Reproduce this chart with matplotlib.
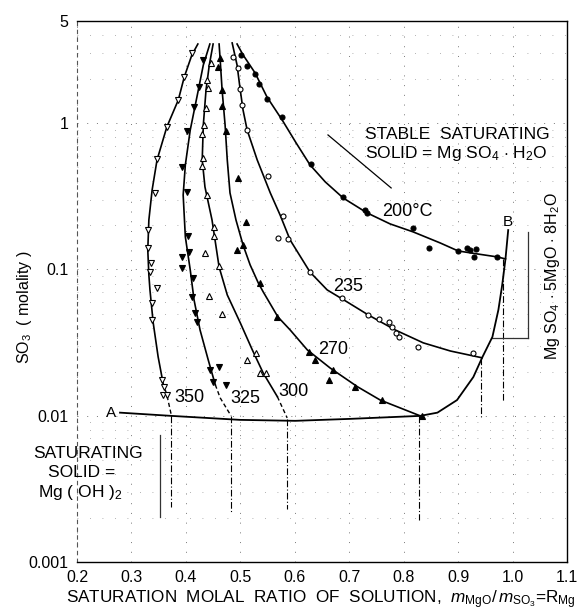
import matplotlib
matplotlib.use("Agg")
import matplotlib.pyplot as plt
from matplotlib.ticker import FixedLocator, NullFormatter

plt.rcParams['font.family'] = ['Liberation Sans', 'DejaVu Sans']
plt.rcParams['mathtext.fontset'] = 'custom'
plt.rcParams['mathtext.rm'] = 'Liberation Sans'
plt.rcParams['mathtext.it'] = 'Liberation Sans:italic'
plt.rcParams['mathtext.bf'] = 'Liberation Sans:bold'

# ---------------- data ----------------
# 350 C  (open down triangles)
x350_line = [0.422, 0.411, 0.397, 0.386, 0.365, 0.347, 0.338, 0.332, 0.330, 0.332, 0.334, 0.340, 0.349, 0.358]
y350_line = [3.48, 2.93, 2.07, 1.44, 0.943, 0.561, 0.350, 0.218, 0.136, 0.0918, 0.0725, 0.0431, 0.0253, 0.0168]
x350_tail = [0.358, 0.365, 0.374]
y350_tail = [0.0168, 0.0139, 0.0098]
x350_pts = [0.411, 0.397, 0.386, 0.365, 0.347, 0.343, 0.330, 0.330, 0.336, 0.334, 0.347, 0.338, 0.338, 0.356, 0.360, 0.358, 0.365]
y350_pts = [3.02, 2.07, 1.44, 0.943, 0.570, 0.334, 0.186, 0.140, 0.111, 0.096, 0.075, 0.059, 0.045, 0.0176, 0.0158, 0.0139, 0.0139]

# 325 C  (filled down triangles)
x325_line = [0.444, 0.432, 0.421, 0.408, 0.399, 0.395, 0.399, 0.408, 0.415, 0.426, 0.441, 0.454]
y325_line = [3.48, 2.50, 1.56, 0.899, 0.519, 0.323, 0.167, 0.0993, 0.0619, 0.0386, 0.0241, 0.0163]
x325_tail = [0.454, 0.463, 0.483]
y325_tail = [0.0163, 0.01325, 0.00998]
x325_pts = [0.432, 0.424, 0.415, 0.402, 0.393, 0.402, 0.404, 0.406, 0.393, 0.393, 0.413, 0.411, 0.417, 0.421, 0.444, 0.461, 0.450, 0.474]
y325_pts = [2.71, 1.77, 1.29, 0.885, 0.502, 0.339, 0.170, 0.132, 0.122, 0.1025, 0.0876, 0.0649, 0.0505, 0.0438, 0.0206, 0.0216, 0.0170, 0.0163]

# 300 C  (open up triangles)
x300_line = [0.450, 0.443, 0.437, 0.432, 0.430, 0.435, 0.448, 0.461, 0.476, 0.500, 0.522, 0.542, 0.568]
y300_line = [3.48, 2.50, 1.69, 0.973, 0.561, 0.367, 0.218, 0.104, 0.067, 0.0431, 0.0282, 0.0196, 0.0135]
x300_tail = [0.568, 0.586]
y300_tail = [0.0135, 0.00967]
x300_pts = [0.446, 0.439, 0.441, 0.437, 0.433, 0.430, 0.432, 0.430, 0.439, 0.452, 0.452, 0.435, 0.461, 0.443, 0.4665, 0.529, 0.5125, 0.536, 0.547]
y300_pts = [2.58, 1.975, 1.74, 1.27, 0.973, 0.845, 0.579, 0.510, 0.323, 0.195, 0.170, 0.130, 0.106, 0.066, 0.0497, 0.0269, 0.0241, 0.0196, 0.0196]

# 270 C  (filled up triangles)
x270_line = [0.461, 0.463, 0.4665, 0.472, 0.476, 0.481, 0.492, 0.505, 0.518, 0.533, 0.542, 0.569, 0.5915, 0.623, 0.665, 0.715, 0.757, 0.8305]
y270_line = [3.48, 2.71, 1.69, 0.973, 0.561, 0.334, 0.218, 0.147, 0.1075, 0.0809, 0.0703, 0.0474, 0.0386, 0.0282, 0.0212, 0.0158, 0.0128, 0.00998]
x270_pts = [0.463, 0.459, 0.4665, 0.4665, 0.474, 0.496, 0.511, 0.494, 0.505, 0.536, 0.568, 0.626, 0.637, 0.6705, 0.663, 0.711, 0.761, 0.834]
y270_pts = [2.79, 2.42, 1.69, 1.31, 0.885, 0.423, 0.211, 0.136, 0.147, 0.081, 0.0474, 0.0273, 0.0241, 0.0206, 0.0176, 0.0158, 0.0128, 0.00998]

# 235 C  (open circles)
x235_line = [0.485, 0.494, 0.4996, 0.505, 0.5125, 0.531, 0.555, 0.573, 0.5915, 0.628, 0.6595, 0.693, 0.735, 0.7845, 0.836, 0.886, 0.944]
y235_line = [3.54, 2.50, 1.715, 1.23, 0.899, 0.561, 0.334, 0.236, 0.159, 0.096, 0.0725, 0.061, 0.0489, 0.0386, 0.0315, 0.0277, 0.0249]
x235_pts = [0.487, 0.496, 0.4996, 0.503, 0.5125, 0.551, 0.579, 0.569, 0.588, 0.628, 0.687, 0.735, 0.755, 0.7735, 0.779, 0.786, 0.792, 0.827, 0.928]
y235_pts = [2.84, 2.39, 1.715, 1.33, 0.899, 0.436, 0.232, 0.164, 0.162, 0.096, 0.064, 0.0489, 0.0459, 0.0438, 0.0405, 0.0368, 0.0346, 0.0296, 0.0269]

# 200 C  (filled circles)
x200_line = [0.494, 0.505, 0.527, 0.549, 0.577, 0.6025, 0.628, 0.656, 0.689, 0.733, 0.775, 0.8176, 0.867, 0.900, 0.935, 0.972, 0.987]
y200_line = [3.48, 2.93, 2.21, 1.51, 1.05, 0.733, 0.519, 0.397, 0.308, 0.2435, 0.205, 0.1806, 0.1519, 0.1339, 0.1278, 0.1219, 0.1181]
x200_pts = [0.501, 0.5125, 0.527, 0.5345, 0.549, 0.577, 0.630, 0.689, 0.729, 0.733, 0.8176, 0.847, 0.900, 0.917, 0.922, 0.933, 0.930, 0.972]
y200_pts = [2.93, 2.46, 2.17, 1.855, 1.465, 1.104, 0.527, 0.313, 0.2554, 0.2435, 0.1924, 0.1404, 0.1339, 0.1404, 0.1361, 0.1382, 0.1219, 0.1219]

# phase boundary A - B
xAB = [0.279, 0.373, 0.4996, 0.6007, 0.702, 0.8305, 0.862, 0.898, 0.928, 0.944, 0.963, 0.974, 0.981, 0.987, 0.992]
yAB = [0.0105, 0.00998, 0.00937, 0.00923, 0.00952, 0.00998, 0.0105, 0.0128, 0.0184, 0.0249, 0.0346, 0.053, 0.0785, 0.118, 0.186]

# vertical drop lines (R_Mg at saturation)
drop_x = [0.372, 0.483, 0.586, 0.829, 0.9426, 0.983]
drop_top = [0.00998, 0.00998, 0.0095, 0.00998, 0.0249, 0.118]
drop_bottom = [0.00238, 0.0022, 0.0023, 0.00194, 0.00967, 0.01244]

x_ticks = [0.2, 0.3, 0.4, 0.5, 0.6, 0.7, 0.8, 0.9, 1.0, 1.1]
x_ticklabels = ['0.2', '0.3', '0.4', '0.5', '0.6', '0.7', '0.8', '0.9', '1.0', '1.1']
y_ticks = [0.001, 0.01, 0.1, 1, 5]
y_ticklabels = ['0.001', '0.01', '0.1', '1', '5']

# ---------------- figure ----------------
fig = plt.figure(figsize=(5.84, 6.16), dpi=100)
ax = fig.add_axes([77/584, 54/616, 490/584, 541/616])
ax.set_yscale('log')
ax.set_xlim(0.2, 1.1)
ax.set_ylim(0.001, 5)

ax.xaxis.set_major_locator(FixedLocator(x_ticks))
ax.set_xticklabels(x_ticklabels)
ax.yaxis.set_major_locator(FixedLocator(y_ticks))
ax.set_yticklabels(y_ticklabels)
minor_y = [m * 10.0**e for e in (-3, -2, -1, 0) for m in (2, 3, 4, 5, 6, 7, 8, 9)]
ax.yaxis.set_minor_locator(FixedLocator(minor_y))
ax.yaxis.set_minor_formatter(NullFormatter())
ax.tick_params(axis='both', which='both', length=0, labelsize=11.5, pad=6)

ax.grid(True, which='major', axis='both', color='#777777', linestyle=(0, (1, 9)), linewidth=0.7)
ax.grid(True, which='minor', axis='y', color='#999999', linestyle=(0, (1, 14)), linewidth=0.6)

for side in ('top', 'bottom', 'right'):
    ax.spines[side].set_linewidth(1.0)
ax.spines['left'].set_linestyle((0, (3, 4)))
ax.spines['left'].set_linewidth(0.8)
ax.spines['left'].set_color('#555555')

lw = 1.2
curves = [
    (x350_line, y350_line, x350_pts, y350_pts, 'v', 'white', 4.3),
    (x325_line, y325_line, x325_pts, y325_pts, 'v', 'black', 4.3),
    (x300_line, y300_line, x300_pts, y300_pts, '^', 'white', 4.3),
    (x270_line, y270_line, x270_pts, y270_pts, '^', 'black', 4.3),
    (x235_line, y235_line, x235_pts, y235_pts, 'o', 'white', 3.6),
    (x200_line, y200_line, x200_pts, y200_pts, 'o', 'black', 3.6),
]
for xl, yl, xp, yp, mk, fc, ms in curves:
    ax.plot(xl, yl, color='black', lw=lw, zorder=3)
    ax.plot(xp, yp, linestyle='none', marker=mk, ms=ms, mfc=fc, mec='black', mew=0.8, zorder=4)

for xt, yt in ((x350_tail, y350_tail), (x325_tail, y325_tail), (x300_tail, y300_tail)):
    ax.plot(xt, yt, color='black', lw=1.0, linestyle=(0, (3, 2)), zorder=3)

ax.plot(xAB, yAB, color='black', lw=1.3, zorder=3)

for xd, yt, yb in zip(drop_x, drop_top, drop_bottom):
    ax.plot([xd, xd], [yt, yb], color='black', lw=0.8, linestyle=(0, (6, 2, 1, 2)), zorder=2)

# bracket lines
ax.plot([0.3526, 0.3526], [0.0074, 0.00204], color='#333333', lw=0.9)
ax.plot([1.029, 1.029], [0.180, 0.0341], color='#333333', lw=0.9)
ax.plot([0.963, 1.029], [0.0341, 0.0341], color='#333333', lw=0.9)
ax.plot([0.661, 0.777], [0.8315, 0.361], color='black', lw=0.9)

# labels
tk = dict(fontsize=13, va='center', ha='left')
ax.text(0.379, 0.0134, '350', **tk)
ax.text(0.481, 0.0132, '325', **tk)
ax.text(0.569, 0.0146, '300', **tk)
ax.text(0.643, 0.0282, '270', **tk)
ax.text(0.6705, 0.076, '235', **tk)
ax.text(0.760, 0.250, '200°C', **tk)
ax.text(0.2625, 0.0105, 'A', fontsize=11, ha='center', va='center')
ax.text(0.9904, 0.211, 'B', fontsize=11, ha='center', va='center')

ax.text(0.729, 0.8315, 'STABLE  SATURATING', fontsize=12.5, ha='left', va='center')
ax.text(0.729, 0.6166, r'SOLID = Mg SO$_4$ $\cdot$ H$_2$O', fontsize=12.5, ha='left', va='center')

ax.text(0.220, 0.00549, 'SATURATING', fontsize=12.5, ha='center', va='center')
ax.text(0.209, 0.00407, 'SOLID =', fontsize=12.5, ha='center', va='center')
ax.text(0.2055, 0.00297, r'Mg ( OH )$_2$', fontsize=12.5, ha='center', va='center')

ax.text(1.073, 0.0904, r'Mg SO$_4$ $\cdot$ 5MgO $\cdot$ 8H$_2$O', fontsize=11.5,
        rotation=90, ha='center', va='center')

fig.text(25/584, 1 - 307/616, r'SO$_3$  ( molality )', fontsize=11.5, rotation=90,
         ha='center', va='center')
fig.text(321/584, 1 - 600/616,
         r'SATURATION  MOLAL  RATIO  OF  SOLUTION,  $\mathit{m}_{\rm MgO}/\,\mathit{m}_{\rm SO_3}$=R$_{\rm Mg}$',
         fontsize=12.3, ha='center', va='center')

fig.savefig('out.png', dpi=100)
